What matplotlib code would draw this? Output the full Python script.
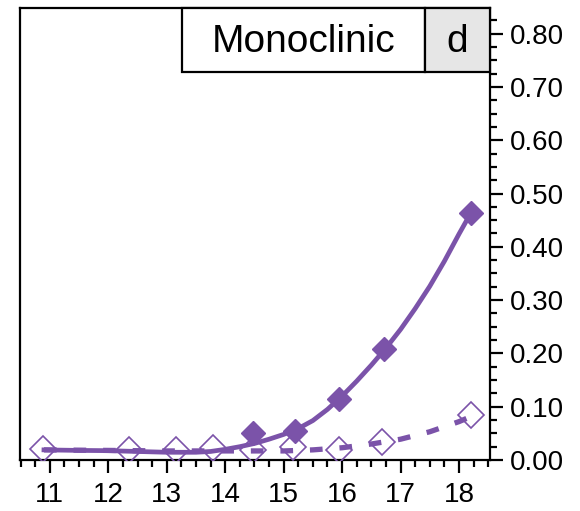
import matplotlib.pyplot as plt
from matplotlib.ticker import MultipleLocator, FormatStrFormatter
from matplotlib.patches import Rectangle

plt.rcParams['font.family'] = ['Liberation Sans', 'DejaVu Sans']

PURPLE = '#7b53a9'

# measured points
x_filled = [14.47, 15.19, 15.95, 16.71, 18.2]
y_filled = [0.050, 0.055, 0.114, 0.209, 0.463]
x_open = [10.89, 12.36, 13.16, 13.79, 14.47, 15.16, 15.95, 16.69, 18.2]
y_open = [0.020, 0.019, 0.019, 0.022, 0.019, 0.025, 0.019, 0.034, 0.084]

# fitted curves
x_fit_solid = [10.9, 11.5, 12.0, 12.5, 13.0, 13.5, 13.75, 14.0, 14.25, 14.5, 14.75,
               15.0, 15.25, 15.5, 15.75, 16.0, 16.25, 16.5, 16.75, 17.0, 17.25,
               17.5, 17.75, 18.0, 18.2]
y_fit_solid = [0.019, 0.018, 0.0175, 0.016, 0.0145, 0.0145, 0.016, 0.020, 0.025,
               0.031, 0.039, 0.048, 0.059, 0.074, 0.095, 0.120, 0.148, 0.178,
               0.210, 0.245, 0.284, 0.326, 0.373, 0.424, 0.463]
x_fit_dash = [10.9, 12.0, 13.0, 14.0, 15.0, 15.5, 16.0, 16.5, 17.0, 17.5, 18.0, 18.15]
y_fit_dash = [0.019, 0.018, 0.017, 0.017, 0.017, 0.019, 0.023, 0.030, 0.039,
              0.053, 0.072, 0.079]

xticks = [11, 12, 13, 14, 15, 16, 17, 18]
yticks = [0.0, 0.1, 0.2, 0.3, 0.4, 0.5, 0.6, 0.7, 0.8]

fig = plt.figure(figsize=(5.8, 5.11), dpi=100)
ax = fig.add_axes([0.0345, 0.0998, 0.8103, 0.8845])

ax.plot(x_fit_solid, y_fit_solid, color=PURPLE, lw=3.4, solid_joinstyle='round',
        zorder=2)
ax.plot(x_fit_dash, y_fit_dash, color=PURPLE, lw=3.8, dashes=(2.4, 3.2), zorder=2)
ax.plot(x_filled, y_filled, ls='none', marker='D', ms=12, color=PURPLE,
        mec=PURPLE, zorder=3)
ax.plot(x_open, y_open, ls='none', marker='D', ms=13.5, mfc='none', mec=PURPLE,
        mew=1.2, zorder=3)

ax.set_xlim(10.49, 18.53)
ax.set_ylim(0, 0.848)
ax.set_xticks(xticks)
ax.set_yticks(yticks)
ax.xaxis.set_minor_locator(MultipleLocator(0.25))
ax.yaxis.set_minor_locator(MultipleLocator(0.025))
ax.yaxis.set_major_formatter(FormatStrFormatter('%.2f'))
ax.yaxis.tick_right()

ax.tick_params(axis='both', which='major', direction='out', length=9, width=1.6,
               labelsize=20, colors='black')
ax.tick_params(axis='both', which='minor', direction='out', length=5, width=1.6)
ax.tick_params(axis='x', which='both', top=False, pad=7)
ax.tick_params(axis='y', which='both', left=False, pad=5)
for s in ax.spines.values():
    s.set_linewidth(1.6)

# title boxes in the upper right corner
ax.add_patch(Rectangle((0.344, 0.859), 0.862 - 0.344, 0.141,
                       transform=ax.transAxes, facecolor='white',
                       edgecolor='black', lw=1.6, zorder=5, clip_on=False))
ax.add_patch(Rectangle((0.862, 0.859), 0.138, 0.141,
                       transform=ax.transAxes, facecolor='#e6e6e6',
                       edgecolor='black', lw=1.6, zorder=5, clip_on=False))
ax.text(0.603, 0.925, 'Monoclinic', transform=ax.transAxes, ha='center',
        va='center', fontsize=28, zorder=6)
ax.text(0.931, 0.925, 'd', transform=ax.transAxes, ha='center', va='center',
        fontsize=28, zorder=6)

fig.savefig('out.png', dpi=100)
